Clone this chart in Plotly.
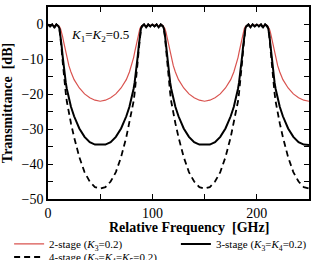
import plotly.graph_objects as go

# Relative frequency sample points [GHz]
freq = [0, 2, 4, 6, 8, 10, 11, 12, 13, 14, 15, 16, 17, 18, 20, 22, 25, 30, 35, 40, 45,
        50, 55, 60, 65, 70, 75, 78, 80, 82, 83, 84, 85, 86, 87, 88, 89, 90, 92, 94, 96, 98,
        100, 102, 104, 106, 108, 110, 111, 112, 113, 114, 115, 116, 117, 118, 120, 122, 125, 130, 135, 140, 145,
        150, 155, 160, 165, 170, 175, 178, 180, 182, 183, 184, 185, 186, 187, 188, 189, 190, 192, 194, 196, 198,
        200, 202, 204, 206, 208, 210, 211, 212, 213, 214, 215, 216, 217, 218, 220, 222, 225, 230, 235, 240, 245,
        250]

# Transmittance [dB], 2-stage (K3=0.2)
stage2 = [0, -0.3, 0, -0.5, 0, -0.3, -0.6, -1.2, -2.2, -3.5, -5, -6.5, -8, -9.5, -11.8, -13.6, -15.8, -18.2, -19.9, -21, -21.7,
          -22, -21.7, -21, -19.9, -18.2, -15.8, -13.6, -11.8, -9.5, -8, -6.5, -5, -3.5, -2.2, -1.2, -0.6, -0.3, 0, -0.5, 0, -0.3,
          0, -0.3, 0, -0.5, 0, -0.3, -0.6, -1.2, -2.2, -3.5, -5, -6.5, -8, -9.5, -11.8, -13.6, -15.8, -18.2, -19.9, -21, -21.7,
          -22, -21.7, -21, -19.9, -18.2, -15.8, -13.6, -11.8, -9.5, -8, -6.5, -5, -3.5, -2.2, -1.2, -0.6, -0.3, 0, -0.5, 0, -0.3,
          0, -0.3, 0, -0.5, 0, -0.3, -0.6, -1.2, -2.2, -3.5, -5, -6.5, -8, -9.5, -11.8, -13.6, -15.8, -18.2, -19.9, -21, -21.7,
          -22]

# Transmittance [dB], 3-stage (K3=K4=0.2)
stage3 = [0, -0.5, 0, -0.8, 0, -0.5, -1.2, -3, -6, -9, -12, -14.5, -16.6, -18.4, -21.3, -23.6, -26.3, -29.8, -32.2, -33.7, -34.4,
          -34.5, -34.4, -33.7, -32.2, -29.8, -26.3, -23.6, -21.3, -18.4, -16.6, -14.5, -12, -9, -6, -3, -1.2, -0.5, 0, -0.8, 0, -0.5,
          0, -0.5, 0, -0.8, 0, -0.5, -1.2, -3, -6, -9, -12, -14.5, -16.6, -18.4, -21.3, -23.6, -26.3, -29.8, -32.2, -33.7, -34.4,
          -34.5, -34.4, -33.7, -32.2, -29.8, -26.3, -23.6, -21.3, -18.4, -16.6, -14.5, -12, -9, -6, -3, -1.2, -0.5, 0, -0.8, 0, -0.5,
          0, -0.5, 0, -0.8, 0, -0.5, -1.2, -3, -6, -9, -12, -14.5, -16.6, -18.4, -21.3, -23.6, -26.3, -29.8, -32.2, -33.7, -34.4,
          -34.5]

# Transmittance [dB], 4-stage (K3=K4=K5=0.2)
stage4 = [0, -0.6, 0, -1, 0, -0.6, -1.4, -3.5, -7, -10.5, -14, -17, -19.6, -22, -25.5, -28.3, -32.3, -38, -42.3, -45, -46.6,
          -47, -46.6, -45, -42.3, -38, -32.3, -28.3, -25.5, -22, -19.6, -17, -14, -10.5, -7, -3.5, -1.4, -0.6, 0, -1, 0, -0.6,
          0, -0.6, 0, -1, 0, -0.6, -1.4, -3.5, -7, -10.5, -14, -17, -19.6, -22, -25.5, -28.3, -32.3, -38, -42.3, -45, -46.6,
          -47, -46.6, -45, -42.3, -38, -32.3, -28.3, -25.5, -22, -19.6, -17, -14, -10.5, -7, -3.5, -1.4, -0.6, 0, -1, 0, -0.6,
          0, -0.6, 0, -1, 0, -0.6, -1.4, -3.5, -7, -10.5, -14, -17, -19.6, -22, -25.5, -28.3, -32.3, -38, -42.3, -45, -46.6,
          -47]

names = ["2-stage (<i>K</i><sub>3</sub>=0.2)",
         "3-stage (<i>K</i><sub>3</sub>=<i>K</i><sub>4</sub>=0.2)",
         "4-stage (<i>K</i><sub>3</sub>=<i>K</i><sub>4</sub>=<i>K</i><sub>5</sub>=0.2)"]

FONT = "Liberation Serif, Times New Roman, serif"

fig = go.Figure()
fig.add_trace(go.Scatter(x=freq, y=stage2, mode="lines", name=names[0], legend="legend",
                         line=dict(color="#d9534f", width=1.2)))
fig.add_trace(go.Scatter(x=freq, y=stage3, mode="lines", name=names[1], legend="legend2",
                         line=dict(color="black", width=2)))
fig.add_trace(go.Scatter(x=freq, y=stage4, mode="lines", name=names[2], legend="legend3",
                         line=dict(color="black", width=1.8, dash="6px,4px")))

axis_common = dict(showline=True, linecolor="black", linewidth=1.5, mirror="ticks",
                   ticks="inside", ticklen=5, tickwidth=1.2, tickcolor="black",
                   showgrid=False, zeroline=False,
                   tickfont=dict(family=FONT, size=14, color="black"))

fig.update_xaxes(range=[0, 250], tickvals=[0, 100, 200],
                 minor=dict(tickvals=[50, 150, 250], ticks="inside", ticklen=5, tickcolor="black", tickwidth=1.2),
                 **axis_common)
fig.update_yaxes(range=[-50, 5], tickvals=[0, -10, -20, -30, -40, -50],
                 minor=dict(tickvals=[-5, -15, -25, -35, -45], ticks="inside", ticklen=5, tickcolor="black", tickwidth=1.2),
                 title=dict(text="<b>Transmittance  [dB]</b>", font=dict(family=FONT, size=14, color="black"), standoff=10),
                 **axis_common)

fig.add_annotation(x=49.5, y=-3.1, xref="x", yref="y", showarrow=False,
                   text="<i>K</i><sub>1</sub>=<i>K</i><sub>2</sub>=0.5",
                   font=dict(family=FONT, size=13, color="black"))
fig.add_annotation(x=0.54, y=-0.146, xref="paper", yref="paper", showarrow=False,
                   xanchor="center", yanchor="middle",
                   text="<b>Relative Frequency  [GHz]</b>",
                   font=dict(family=FONT, size=14, color="black"))

leg_common = dict(orientation="h", xanchor="left", yanchor="middle",
                  font=dict(family=FONT, size=11, color="black"),
                  itemwidth=30, bgcolor="rgba(0,0,0,0)")

fig.update_layout(
    width=315, height=260,
    margin=dict(l=48, r=6, t=7, b=61, autoexpand=False),
    paper_bgcolor="white", plot_bgcolor="white",
    showlegend=True,
    legend=dict(x=-0.149, y=-0.234, **leg_common),
    legend2=dict(x=0.49, y=-0.234, **leg_common),
    legend3=dict(x=-0.149, y=-0.302, **leg_common),
)

fig.write_html("out.html")
